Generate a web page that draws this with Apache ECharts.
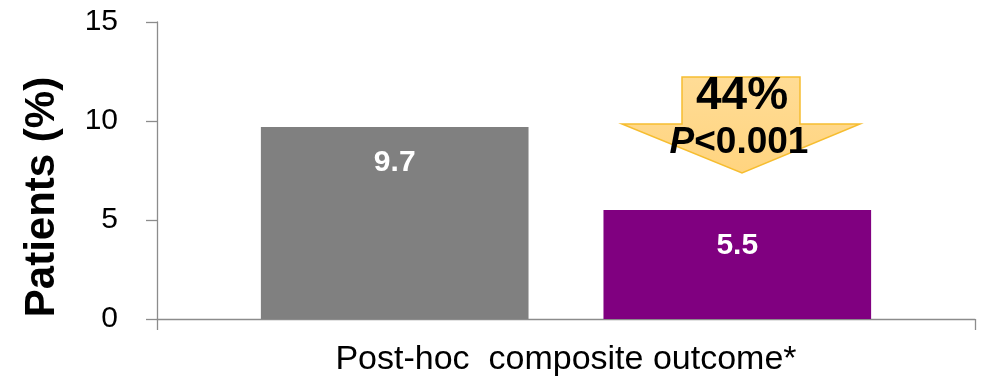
<!DOCTYPE html>
<html>
<head>
<meta charset="utf-8">
<script src="https://cdn.jsdelivr.net/npm/echarts@6/dist/echarts.min.js"></script>
<style>
  html, body { margin: 0; padding: 0; background: #ffffff; }
  #chart { width: 987px; height: 388px; }
</style>
</head>
<body>
<div id="chart"></div>
<script>
// Categories, series values and tick labels
const categories = ['Post-hoc  composite outcome*'];
const controlValues = [9.7];
const treatedValues = [5.5];
const yTicks = [0, 5, 10, 15];
const reductionText = '44%';
const pValueText = '<0.001';

const FONT = '"Liberation Sans", Arial, sans-serif';
const chart = echarts.init(document.getElementById('chart'), null, { renderer: 'canvas' });

const barLabel = {
  show: true,
  position: 'insideTop',
  distance: 21,
  color: '#ffffff',
  fontFamily: FONT,
  fontWeight: 'bold',
  fontSize: 30,
  formatter: p => p.value.toFixed(1)
};

chart.setOption({
  animation: false,
  backgroundColor: '#ffffff',
  grid: { left: 157, right: 12, top: 22, bottom: 69, containLabel: false },
  xAxis: {
    type: 'category',
    data: categories,
    axisLine: { lineStyle: { color: '#8c8c8c', width: 1.3 } },
    axisTick: { show: true, length: 11, lineStyle: { color: '#8c8c8c', width: 1.3 } },
    axisLabel: { margin: 24, color: '#000000', fontFamily: FONT, fontSize: 34 }
  },
  yAxis: {
    type: 'value',
    min: yTicks[0],
    max: yTicks[yTicks.length - 1],
    interval: yTicks[1] - yTicks[0],
    axisLine: { show: true, lineStyle: { color: '#8c8c8c', width: 1.3 } },
    axisTick: { show: true, length: 11, lineStyle: { color: '#8c8c8c', width: 1.3 } },
    splitLine: { show: false },
    axisLabel: { margin: 39, color: '#000000', fontFamily: FONT, fontSize: 30 }
  },
  series: [
    {
      name: 'Control',
      type: 'bar',
      data: controlValues,
      barGap: '28%',
      barCategoryGap: '25.4%',
      itemStyle: { color: '#808080' },
      label: barLabel
    },
    {
      name: 'Treatment',
      type: 'bar',
      data: treatedValues,
      barGap: '28%',
      barCategoryGap: '25.4%',
      itemStyle: { color: '#800080' },
      label: barLabel
    }
  ],
  graphic: [
    // rotated y-axis title
    {
      type: 'group',
      x: 42, y: 197,
      rotation: Math.PI / 2,
      children: [{
        type: 'text',
        style: {
          text: 'Patients (%)',
          fontFamily: FONT, fontWeight: 'bold', fontSize: 42,
          fill: '#000000', align: 'center', verticalAlign: 'middle'
        }
      }]
    },
    // reduction arrow
    {
      type: 'polygon',
      z: 100,
      shape: { points: [[682, 77], [800, 77], [800, 124], [860, 124], [742, 173], [622, 124], [682, 124]] },
      style: {
        fill: new echarts.graphic.LinearGradient(0, 0, 0, 1, [
          { offset: 0, color: '#ffdc96' },
          { offset: 1, color: '#ffd47f' }
        ]),
        stroke: '#f6bd30',
        lineWidth: 1.5
      }
    },
    {
      type: 'text', z: 101,
      x: 742, y: 96,
      style: {
        text: reductionText,
        fontFamily: FONT, fontWeight: 'bold', fontSize: 46,
        fill: '#000000', align: 'center', verticalAlign: 'middle'
      }
    },
    {
      type: 'text', z: 101,
      x: 739, y: 143,
      style: {
        text: '{i|P}{b|' + pValueText + '}',
        align: 'center', verticalAlign: 'middle',
        rich: {
          i: { fontFamily: FONT, fontWeight: 'bold', fontStyle: 'italic', fontSize: 37, fill: '#000000' },
          b: { fontFamily: FONT, fontWeight: 'bold', fontSize: 37, fill: '#000000' }
        }
      }
    }
  ]
});
</script>
</body>
</html>
